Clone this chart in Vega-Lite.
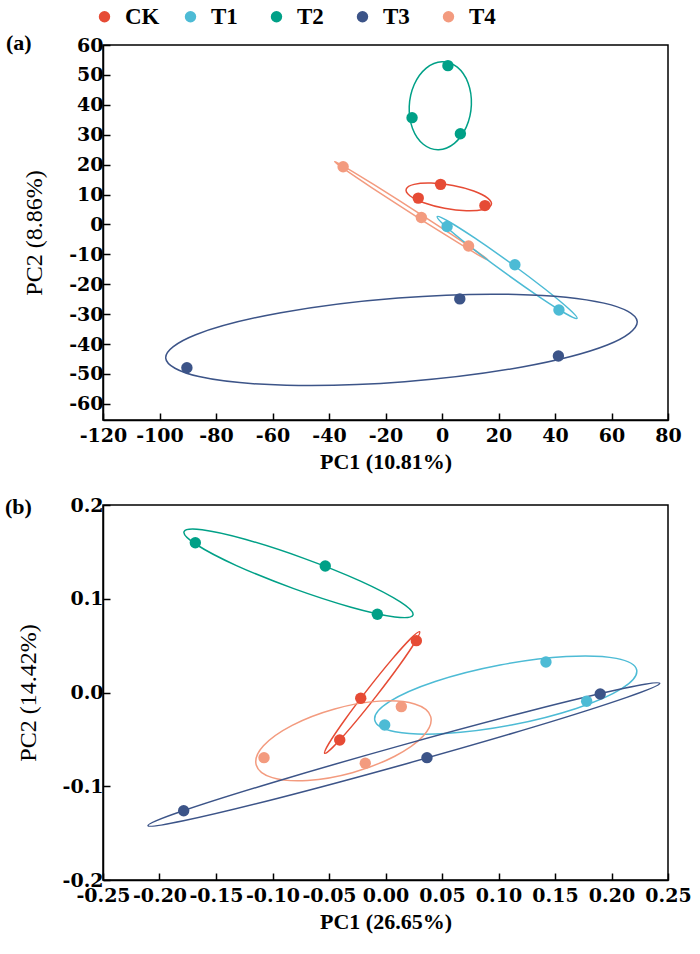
{
  "$schema": "https://vega.github.io/schema/vega-lite/v6.json",
  "padding": {"left": 4, "top": 5, "right": 10, "bottom": 5},
  "background": "white",
  "datasets": {
    "pa": [
      {"group": "CK", "x": -0.5, "y": 13.4}, {"group": "CK", "x": -8.4, "y": 8.8}, {"group": "CK", "x": 15.2, "y": 6.3},
      {"group": "T1", "x": 1.8, "y": -0.7}, {"group": "T1", "x": 25.8, "y": -13.5}, {"group": "T1", "x": 41.4, "y": -28.6},
      {"group": "T2", "x": 2.1, "y": 53.1}, {"group": "T2", "x": -10.6, "y": 35.7}, {"group": "T2", "x": 6.5, "y": 30.3},
      {"group": "T3", "x": 6.3, "y": -24.9}, {"group": "T3", "x": 41.2, "y": -44.0}, {"group": "T3", "x": -90.3, "y": -47.9},
      {"group": "T4", "x": -35.0, "y": 19.3}, {"group": "T4", "x": -7.3, "y": 2.3}, {"group": "T4", "x": 9.4, "y": -7.2}
    ],
    "ea": [
      {"group": "T2", "i": 0, "x": 10.4, "y": 40.0}, {"group": "T2", "i": 1, "x": 9.23, "y": 47.31}, {"group": "T2", "i": 2, "x": 5.42, "y": 52.58}, {"group": "T2", "i": 3, "x": 0.0, "y": 54.4}, {"group": "T2", "i": 4, "x": -5.58, "y": 52.28}, {"group": "T2", "i": 5, "x": -9.83, "y": 46.79}, {"group": "T2", "i": 6, "x": -11.6, "y": 39.4}, {"group": "T2", "i": 7, "x": -10.43, "y": 32.09}, {"group": "T2", "i": 8, "x": -6.62, "y": 26.82}, {"group": "T2", "i": 9, "x": -1.2, "y": 25.0}, {"group": "T2", "i": 10, "x": 4.38, "y": 27.12}, {"group": "T2", "i": 11, "x": 8.63, "y": 32.61},
      {"group": "CK", "i": 0, "x": 17.45, "y": 6.55}, {"group": "CK", "i": 1, "x": 16.18, "y": 8.81}, {"group": "CK", "i": 2, "x": 11.23, "y": 11.16}, {"group": "CK", "i": 3, "x": 3.9, "y": 13.0}, {"group": "CK", "i": 4, "x": -3.83, "y": 13.82}, {"group": "CK", "i": 5, "x": -9.88, "y": 13.39}, {"group": "CK", "i": 6, "x": -12.65, "y": 11.85}, {"group": "CK", "i": 7, "x": -11.38, "y": 9.59}, {"group": "CK", "i": 8, "x": -6.43, "y": 7.24}, {"group": "CK", "i": 9, "x": 0.9, "y": 5.4}, {"group": "CK", "i": 10, "x": 8.63, "y": 4.58}, {"group": "CK", "i": 11, "x": 14.68, "y": 5.01},
      {"group": "T4", "i": 0, "x": 16.3, "y": -11.9}, {"group": "T4", "i": 1, "x": 12.86, "y": -9.4}, {"group": "T4", "i": 2, "x": 3.08, "y": -3.16}, {"group": "T4", "i": 3, "x": -10.45, "y": 5.15}, {"group": "T4", "i": 4, "x": -24.08, "y": 13.3}, {"group": "T4", "i": 5, "x": -34.16, "y": 19.1}, {"group": "T4", "i": 6, "x": -38.0, "y": 21.0}, {"group": "T4", "i": 7, "x": -34.56, "y": 18.5}, {"group": "T4", "i": 8, "x": -24.78, "y": 12.26}, {"group": "T4", "i": 9, "x": -11.25, "y": 3.95}, {"group": "T4", "i": 10, "x": 2.38, "y": -4.2}, {"group": "T4", "i": 11, "x": 12.46, "y": -10.0},
      {"group": "T1", "i": 0, "x": 47.8, "y": -31.4}, {"group": "T1", "i": 1, "x": 45.07, "y": -28.37}, {"group": "T1", "i": 2, "x": 36.44, "y": -21.6}, {"group": "T1", "i": 3, "x": 24.22, "y": -12.9}, {"group": "T1", "i": 4, "x": 11.68, "y": -4.6}, {"group": "T1", "i": 5, "x": 2.21, "y": 1.07}, {"group": "T1", "i": 6, "x": -1.7, "y": 2.6}, {"group": "T1", "i": 7, "x": 1.03, "y": -0.43}, {"group": "T1", "i": 8, "x": 9.66, "y": -7.2}, {"group": "T1", "i": 9, "x": 21.88, "y": -15.9}, {"group": "T1", "i": 10, "x": 34.42, "y": -24.2}, {"group": "T1", "i": 11, "x": 43.89, "y": -29.87},
      {"group": "T3", "i": 0, "x": 69.1, "y": -32.5}, {"group": "T3", "i": 1, "x": 57.35, "y": -26.32}, {"group": "T3", "i": 2, "x": 26.39, "y": -23.43}, {"group": "T3", "i": 3, "x": -15.49, "y": -24.6}, {"group": "T3", "i": 4, "x": -57.07, "y": -29.53}, {"group": "T3", "i": 5, "x": -87.19, "y": -36.88}, {"group": "T3", "i": 6, "x": -97.8, "y": -44.7}, {"group": "T3", "i": 7, "x": -86.05, "y": -50.88}, {"group": "T3", "i": 8, "x": -55.09, "y": -53.77}, {"group": "T3", "i": 9, "x": -13.21, "y": -52.6}, {"group": "T3", "i": 10, "x": 28.37, "y": -47.67}, {"group": "T3", "i": 11, "x": 58.49, "y": -40.32}
    ],
    "pb": [
      {"group": "CK", "x": 0.0273, "y": 0.0553}, {"group": "CK", "x": -0.0219, "y": -0.0062}, {"group": "CK", "x": -0.0405, "y": -0.0507},
      {"group": "T1", "x": 0.142, "y": 0.0325}, {"group": "T1", "x": 0.178, "y": -0.0094}, {"group": "T1", "x": -0.0007, "y": -0.0347},
      {"group": "T2", "x": -0.1683, "y": 0.1598}, {"group": "T2", "x": -0.0533, "y": 0.1349}, {"group": "T2", "x": -0.0072, "y": 0.0834},
      {"group": "T3", "x": 0.19, "y": -0.0016}, {"group": "T3", "x": 0.0367, "y": -0.0695}, {"group": "T3", "x": -0.1786, "y": -0.1261},
      {"group": "T4", "x": 0.014, "y": -0.0151}, {"group": "T4", "x": -0.0179, "y": -0.0755}, {"group": "T4", "x": -0.1075, "y": -0.0695}
    ],
    "eb": [
      {"group": "T2", "i": 0, "x": 0.0243, "y": 0.0827}, {"group": "T2", "i": 1, "x": 0.0131, "y": 0.0966}, {"group": "T2", "i": 2, "x": -0.0221, "y": 0.1188}, {"group": "T2", "i": 3, "x": -0.0722, "y": 0.1431}, {"group": "T2", "i": 4, "x": -0.1235, "y": 0.1632}, {"group": "T2", "i": 5, "x": -0.1623, "y": 0.1736}, {"group": "T2", "i": 6, "x": -0.1783, "y": 0.1715}, {"group": "T2", "i": 7, "x": -0.1671, "y": 0.1576}, {"group": "T2", "i": 8, "x": -0.1319, "y": 0.1354}, {"group": "T2", "i": 9, "x": -0.0818, "y": 0.1111}, {"group": "T2", "i": 10, "x": -0.0305, "y": 0.091}, {"group": "T2", "i": 11, "x": 0.0083, "y": 0.0806},
      {"group": "CK", "i": 0, "x": 0.0302, "y": 0.0649}, {"group": "CK", "i": 1, "x": 0.0265, "y": 0.0544}, {"group": "CK", "i": 2, "x": 0.0125, "y": 0.0293}, {"group": "CK", "i": 3, "x": -0.008, "y": -0.0036}, {"group": "CK", "i": 4, "x": -0.0295, "y": -0.0356}, {"group": "CK", "i": 5, "x": -0.0463, "y": -0.058}, {"group": "CK", "i": 6, "x": -0.0538, "y": -0.0649}, {"group": "CK", "i": 7, "x": -0.0501, "y": -0.0544}, {"group": "CK", "i": 8, "x": -0.0361, "y": -0.0293}, {"group": "CK", "i": 9, "x": -0.0156, "y": 0.0036}, {"group": "CK", "i": 10, "x": 0.0059, "y": 0.0356}, {"group": "CK", "i": 11, "x": 0.0227, "y": 0.058},
      {"group": "T1", "i": 0, "x": 0.2223, "y": 0.024}, {"group": "T1", "i": 1, "x": 0.2043, "y": 0.0364}, {"group": "T1", "i": 2, "x": 0.16, "y": 0.0384}, {"group": "T1", "i": 3, "x": 0.1014, "y": 0.0293}, {"group": "T1", "i": 4, "x": 0.044, "y": 0.0117}, {"group": "T1", "i": 5, "x": 0.0035, "y": -0.0098}, {"group": "T1", "i": 6, "x": -0.0095, "y": -0.0294}, {"group": "T1", "i": 7, "x": 0.0085, "y": -0.0418}, {"group": "T1", "i": 8, "x": 0.0528, "y": -0.0438}, {"group": "T1", "i": 9, "x": 0.1114, "y": -0.0347}, {"group": "T1", "i": 10, "x": 0.1688, "y": -0.017}, {"group": "T1", "i": 11, "x": 0.2093, "y": 0.0044},
      {"group": "T4", "i": 0, "x": 0.04, "y": -0.0257}, {"group": "T4", "i": 1, "x": 0.0258, "y": -0.0122}, {"group": "T4", "i": 2, "x": -0.0054, "y": -0.0092}, {"group": "T4", "i": 3, "x": -0.045, "y": -0.0175}, {"group": "T4", "i": 4, "x": -0.0826, "y": -0.035}, {"group": "T4", "i": 5, "x": -0.108, "y": -0.0568}, {"group": "T4", "i": 6, "x": -0.1144, "y": -0.0773}, {"group": "T4", "i": 7, "x": -0.1002, "y": -0.0908}, {"group": "T4", "i": 8, "x": -0.069, "y": -0.0938}, {"group": "T4", "i": 9, "x": -0.0294, "y": -0.0855}, {"group": "T4", "i": 10, "x": 0.0082, "y": -0.068}, {"group": "T4", "i": 11, "x": 0.0336, "y": -0.0462},
      {"group": "T3", "i": 0, "x": 0.2427, "y": 0.0098}, {"group": "T3", "i": 1, "x": 0.2112, "y": 0.0045}, {"group": "T3", "i": 2, "x": 0.1276, "y": -0.0197}, {"group": "T3", "i": 3, "x": 0.014, "y": -0.0564}, {"group": "T3", "i": 4, "x": -0.0989, "y": -0.0957}, {"group": "T3", "i": 5, "x": -0.181, "y": -0.127}, {"group": "T3", "i": 6, "x": -0.2102, "y": -0.1421}, {"group": "T3", "i": 7, "x": -0.1788, "y": -0.1368}, {"group": "T3", "i": 8, "x": -0.0951, "y": -0.1127}, {"group": "T3", "i": 9, "x": 0.0185, "y": -0.0759}, {"group": "T3", "i": 10, "x": 0.1314, "y": -0.0367}, {"group": "T3", "i": 11, "x": 0.2135, "y": -0.0052}
    ]
  },
  "spacing": 22,
  "vconcat": [
    {
      "width": 565,
      "height": 375,
      "title": {"text": "(a)", "orient": "top", "anchor": "start", "frame": "group", "font": "Liberation Serif", "fontWeight": "bold", "fontSize": 22, "color": "black", "baseline": "alphabetic", "offset": 0, "dx": -97, "dy": 36},
      "layer": [
        {"mark": {"type": "rule", "color": "#888888", "strokeDash": [7, 5], "strokeWidth": 1.5}, "encoding": {"x": {"datum": 0, "type": "quantitative", "scale": {"domain": [-120, 80], "nice": false}, "axis": {"values": [-120, -100, -80, -60, -40, -20, 0, 20, 40, 60, 80], "title": "PC1 (10.81%)", "labelOverlap": false, "labelExpr": "replace(datum.label, '\u2212', '-')"}}}},
        {"mark": {"type": "rule", "color": "#888888", "strokeDash": [7, 5], "strokeWidth": 1.5}, "encoding": {"y": {"datum": 0, "type": "quantitative", "scale": {"domain": [-65.4, 60], "nice": false}, "axis": {"values": [-60, -50, -40, -30, -20, -10, 0, 10, 20, 30, 40, 50, 60], "tickCount": 13, "title": "PC2 (8.86%)", "labelOverlap": false, "labelSeparation": 0, "labelExpr": "replace(datum.label, '\u2212', '-')"}}}},
        {
          "data": {"name": "ea"},
          "mark": {"type": "line", "interpolate": "cardinal-closed", "strokeWidth": 1.5},
          "encoding": {
            "x": {"field": "x", "type": "quantitative", "scale": {"domain": [-120, 80], "nice": false}, "axis": {"values": [-120, -100, -80, -60, -40, -20, 0, 20, 40, 60, 80], "title": "PC1 (10.81%)", "labelOverlap": false, "labelExpr": "replace(datum.label, '\u2212', '-')"}},
            "y": {"field": "y", "type": "quantitative", "scale": {"domain": [-65.4, 60], "nice": false}, "axis": {"values": [-60, -50, -40, -30, -20, -10, 0, 10, 20, 30, 40, 50, 60], "tickCount": 13, "title": "PC2 (8.86%)", "labelOverlap": false, "labelSeparation": 0, "labelExpr": "replace(datum.label, '\u2212', '-')"}},
            "stroke": {"field": "group", "type": "nominal", "scale": {"domain": ["T4", "CK", "T1", "T2", "T3"], "range": ["#F39B7F", "#E64B35", "#4DBBD5", "#00A087", "#3C5488"]}, "legend": null},
            "detail": {"field": "group"},
            "order": {"field": "i", "type": "quantitative"}
          }
        },
        {
          "data": {"name": "pa"},
          "mark": {"type": "point", "filled": true, "opacity": 1, "size": 130, "shape": "circle"},
          "encoding": {
            "x": {"field": "x", "type": "quantitative", "axis": {"values": [-120, -100, -80, -60, -40, -20, 0, 20, 40, 60, 80], "title": "PC1 (10.81%)", "labelOverlap": false, "labelExpr": "replace(datum.label, '\u2212', '-')"}},
            "y": {"field": "y", "type": "quantitative", "axis": {"values": [-60, -50, -40, -30, -20, -10, 0, 10, 20, 30, 40, 50, 60], "tickCount": 13, "title": "PC2 (8.86%)", "labelOverlap": false, "labelSeparation": 0, "labelExpr": "replace(datum.label, '\u2212', '-')"}},
            "color": {"field": "group", "type": "nominal", "scale": {"domain": ["CK", "T1", "T2", "T3", "T4"], "range": ["#E64B35", "#4DBBD5", "#00A087", "#3C5488", "#F39B7F"]}, "legend": {"title": null, "orient": "none", "legendX": -10, "legendY": -40, "direction": "horizontal", "columns": 5, "gridAlign": "all"}}
          }
        }
      ]
    },
    {
      "width": 565,
      "height": 375,
      "title": {"text": "(b)", "orient": "top", "anchor": "start", "frame": "group", "font": "Liberation Serif", "fontWeight": "bold", "fontSize": 22, "color": "black", "baseline": "alphabetic", "offset": 0, "dx": -98, "dy": 40},
      "layer": [
        {"mark": {"type": "rule", "color": "#888888", "strokeDash": [7, 5], "strokeWidth": 1.5}, "encoding": {"x": {"datum": 0, "type": "quantitative", "scale": {"domain": [-0.25, 0.25], "nice": false}, "axis": {"values": [-0.25, -0.2, -0.15, -0.1, -0.05, 0, 0.05, 0.1, 0.15, 0.2, 0.25], "format": ".2f", "title": "PC1 (26.65%)", "labelOverlap": false, "labelExpr": "replace(datum.label, '\u2212', '-')"}}}},
        {"mark": {"type": "rule", "color": "#888888", "strokeDash": [7, 5], "strokeWidth": 1.5}, "encoding": {"y": {"datum": 0, "type": "quantitative", "scale": {"domain": [-0.2, 0.2], "nice": false}, "axis": {"values": [-0.2, -0.1, 0, 0.1, 0.2], "format": ".1f", "title": "PC2 (14.42%)", "labelOverlap": false, "labelExpr": "replace(datum.label, '\u2212', '-')"}}}},
        {
          "data": {"name": "eb"},
          "mark": {"type": "line", "interpolate": "cardinal-closed", "strokeWidth": 1.5},
          "encoding": {
            "x": {"field": "x", "type": "quantitative", "scale": {"domain": [-0.25, 0.25], "nice": false}, "axis": {"values": [-0.25, -0.2, -0.15, -0.1, -0.05, 0, 0.05, 0.1, 0.15, 0.2, 0.25], "format": ".2f", "title": "PC1 (26.65%)", "labelOverlap": false, "labelExpr": "replace(datum.label, '\u2212', '-')"}},
            "y": {"field": "y", "type": "quantitative", "scale": {"domain": [-0.2, 0.2], "nice": false}, "axis": {"values": [-0.2, -0.1, 0, 0.1, 0.2], "format": ".1f", "title": "PC2 (14.42%)", "labelOverlap": false, "labelExpr": "replace(datum.label, '\u2212', '-')"}},
            "stroke": {"field": "group", "type": "nominal", "scale": {"domain": ["T4", "CK", "T1", "T2", "T3"], "range": ["#F39B7F", "#E64B35", "#4DBBD5", "#00A087", "#3C5488"]}, "legend": null},
            "detail": {"field": "group"},
            "order": {"field": "i", "type": "quantitative"}
          }
        },
        {
          "data": {"name": "pb"},
          "mark": {"type": "point", "filled": true, "opacity": 1, "size": 130, "shape": "circle"},
          "encoding": {
            "x": {"field": "x", "type": "quantitative", "axis": {"values": [-0.25, -0.2, -0.15, -0.1, -0.05, 0, 0.05, 0.1, 0.15, 0.2, 0.25], "format": ".2f", "title": "PC1 (26.65%)", "labelOverlap": false, "labelExpr": "replace(datum.label, '\u2212', '-')"}},
            "y": {"field": "y", "type": "quantitative", "axis": {"values": [-0.2, -0.1, 0, 0.1, 0.2], "format": ".1f", "title": "PC2 (14.42%)", "labelOverlap": false, "labelExpr": "replace(datum.label, '\u2212', '-')"}},
            "color": {"field": "group", "type": "nominal", "scale": {"domain": ["CK", "T1", "T2", "T3", "T4"], "range": ["#E64B35", "#4DBBD5", "#00A087", "#3C5488", "#F39B7F"]}, "legend": {"title": null, "orient": "none", "legendX": -10, "legendY": -40, "direction": "horizontal", "columns": 5, "gridAlign": "all"}}
          }
        }
      ]
    }
  ],
  "config": {
    "view": {"stroke": "black", "strokeWidth": 1.5},
    "axis": {
      "grid": false,
      "domainColor": "black",
      "domainWidth": 1.5,
      "tickColor": "black",
      "tickWidth": 1.5,
      "tickSize": -7,
      "labelFont": "DejaVu Serif",
      "labelFontWeight": "bold",
      "labelFontSize": 19,
      "labelColor": "black",
      "labelFlush": false,
      "labelOverlap": false,
      "labelBound": false,
      "titleFont": "Liberation Serif",
      "titleColor": "black"
    },
    "axisX": {"labelPadding": 13, "titleFontWeight": "bold", "titleFontSize": 22, "titlePadding": 6},
    "axisY": {"labelPadding": 7, "titleFontWeight": "normal", "titleFontSize": 24, "titlePadding": 22},
    "legend": {
      "symbolType": "circle",
      "symbolSize": 130,
      "symbolStrokeWidth": 0,
      "labelFont": "Liberation Serif",
      "labelFontWeight": "bold",
      "labelFontSize": 23,
      "labelColor": "black",
      "labelOffset": 9,
      "columnPadding": 19
    }
  }
}
